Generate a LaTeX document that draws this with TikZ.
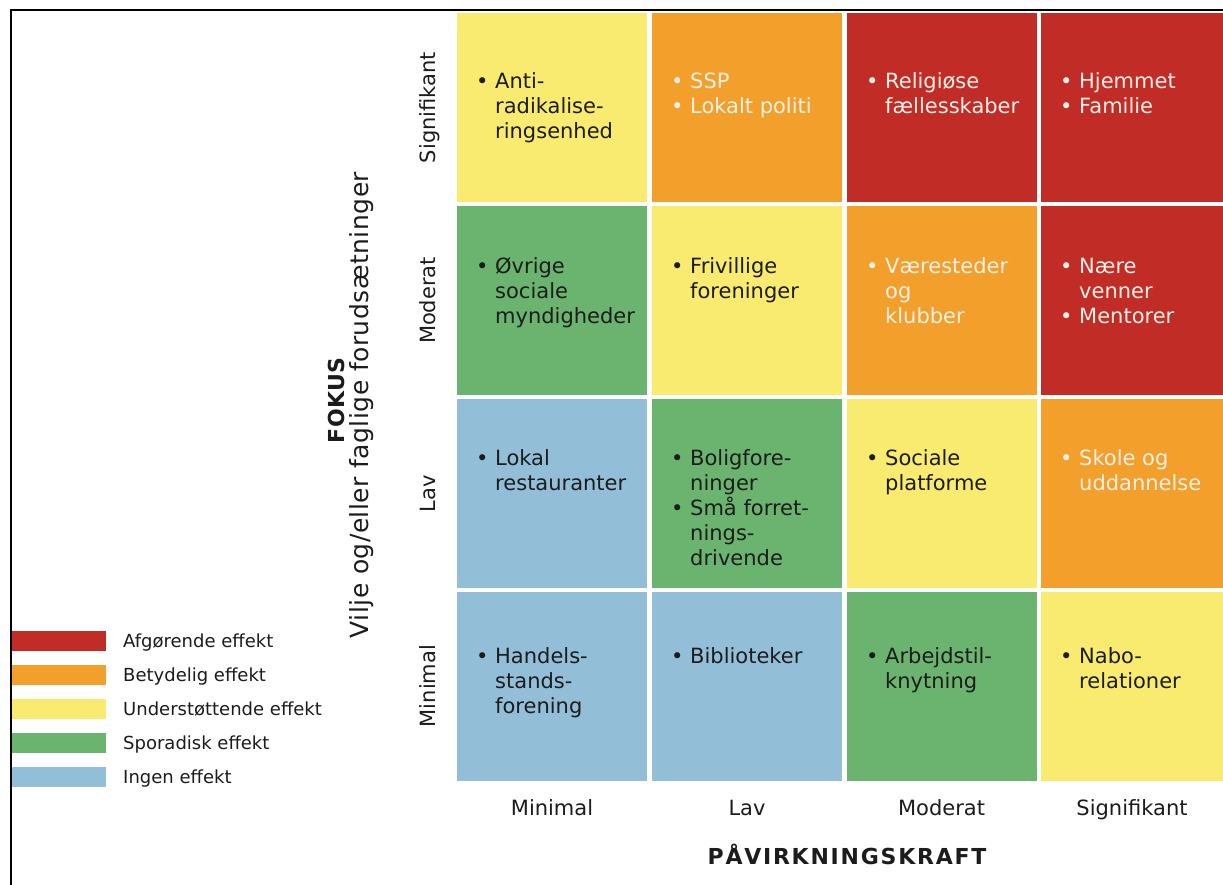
\documentclass[tikz,border=0pt]{standalone}
\usepackage{fontspec}
\setmainfont{DejaVu Sans}
\definecolor{feltroed}{HTML}{C12C27}
\definecolor{feltorange}{HTML}{F29F2B}
\definecolor{feltgul}{HTML}{F9EB6F}
\definecolor{feltgroen}{HTML}{6AB46F}
\definecolor{feltblaa}{HTML}{92BFD7}
\definecolor{morktekst}{HTML}{1C1C1C}
\definecolor{lystekst}{HTML}{F8F0E6}
\newcommand{\pkt}{\makebox[19pt][l]{\textbullet}}
\newcommand{\ind}{\hspace*{19pt}}

\begin{document}
\begin{tikzpicture}[x=1pt,y=-1pt,
  felt/.style={minimum width=190pt,minimum height=189pt,inner sep=0pt},
  tekst/.style={anchor=north west,inner sep=0pt,align=left,text=morktekst,font=\fontsize{21pt}{25pt}\selectfont},
  lys/.style={text=lystekst},
  etiket/.style={inner sep=0pt,anchor=base,text=morktekst,font=\fontsize{21pt}{25pt}\selectfont},
  akse/.style={inner sep=0pt,anchor=base,text=morktekst,font=\fontsize{22pt}{26pt}\selectfont\bfseries\addfontfeature{LetterSpace=8}},
  boks/.style={minimum width=94pt,minimum height=20pt,inner sep=0pt},
  forklaring/.style={inner sep=0pt,anchor=base west,text=morktekst,font=\fontsize{18pt}{22pt}\selectfont}]
\clip (0,0) rectangle (1223,885);
\fill[white] (0,0) rectangle (1223,885);
\draw[line width=2pt] (10.5,900) -- (10.5,10.5) -- (1240,10.5);

% felter
\node[felt,fill=feltgul] (C11) at (552,107.5) {};
\node[felt,fill=feltorange] (C12) at (747,107.5) {};
\node[felt,fill=feltroed] (C13) at (941.5,107.5) {};
\node[felt,fill=feltroed] (C14) at (1136,107.5) {};
\node[felt,fill=feltgroen] (C21) at (552,300.5) {};
\node[felt,fill=feltgul] (C22) at (747,300.5) {};
\node[felt,fill=feltorange] (C23) at (941.5,300.5) {};
\node[felt,fill=feltroed] (C24) at (1136,300.5) {};
\node[felt,fill=feltblaa] (C31) at (552,493.5) {};
\node[felt,fill=feltgroen] (C32) at (747,493.5) {};
\node[felt,fill=feltgul] (C33) at (941.5,493.5) {};
\node[felt,fill=feltorange] (C34) at (1136,493.5) {};
\node[felt,fill=feltblaa] (C41) at (552,686) {};
\node[felt,fill=feltblaa] (C42) at (747,686) {};
\node[felt,fill=feltgroen] (C43) at (941.5,686) {};
\node[felt,fill=feltgul] (C44) at (1136,686) {};

% tekst i felterne
\node[tekst] (T11) at (476,70.5) {\strut\pkt Anti-\\\ind radikalise-\\\ind ringsenhed};
\node[tekst,lys] (T12) at (671,70.5) {\strut\pkt SSP\\\pkt Lokalt politi};
\node[tekst,lys] (T13) at (866,70.5) {\strut\pkt Religiøse\\\ind fællesskaber};
\node[tekst,lys] (T14) at (1060,70.5) {\strut\pkt Hjemmet\\\pkt Familie};
\node[tekst] (T21) at (476,255.5) {\strut\pkt Øvrige\\\ind sociale\\\ind myndigheder};
\node[tekst] (T22) at (671,255.5) {\strut\pkt Frivillige\\\ind foreninger};
\node[tekst,lys] (T23) at (866,255.5) {\strut\pkt Væresteder\\\ind og\\\ind klubber};
\node[tekst,lys] (T24) at (1060,255.5) {\strut\pkt Nære\\\ind venner\\\pkt Mentorer};
\node[tekst] (T31) at (476,447.5) {\strut\pkt Lokal\\\ind restauranter};
\node[tekst] (T32) at (671,447.5) {\strut\pkt Boligfore-\\\ind ninger\\\pkt Små forret-\\\ind nings-\\\ind drivende};
\node[tekst] (T33) at (866,447.5) {\strut\pkt Sociale\\\ind platforme};
\node[tekst,lys] (T34) at (1060,447.5) {\strut\pkt Skole og\\\ind uddannelse};
\node[tekst] (T41) at (476,645.5) {\strut\pkt Handels-\\\ind stands-\\\ind forening};
\node[tekst] (T42) at (671,645.5) {\strut\pkt Biblioteker};
\node[tekst] (T43) at (866,645.5) {\strut\pkt Arbejdstil-\\\ind knytning};
\node[tekst] (T44) at (1060,645.5) {\strut\pkt Nabo-\\\ind relationer};

% akser
\node[etiket] (K1) at (552,815) {Minimal};
\node[etiket] (K2) at (747,815) {Lav};
\node[etiket] (K3) at (941.5,815) {Moderat};
\node[etiket] (K4) at (1132,815) {Signifikant};
\node[etiket,rotate=90] (R1) at (435,107.5) {Signifikant};
\node[etiket,rotate=90] (R2) at (435,300.5) {Moderat};
\node[etiket,rotate=90] (R3) at (435,493.5) {Lav};
\node[etiket,rotate=90] (R4) at (435,686) {Minimal};
\node[akse] (X) at (847,864) {PÅVIRKNINGSKRAFT};
\node[akse,rotate=90,font=\fontsize{22pt}{26pt}\selectfont\bfseries\addfontfeature{LetterSpace=2}] (Y) at (344,400.5) {FOKUS};
\node[etiket,rotate=90,font=\fontsize{25pt}{30pt}\selectfont\addfontfeature{LetterSpace=2}] (Y2) at (368,405) {Vilje og/eller faglige forudsætninger};

% forklaring
\node[boks,fill=feltroed] (B1) at (59,641) {};
\node[boks,fill=feltorange] (B2) at (59,675) {};
\node[boks,fill=feltgul] (B3) at (59,709) {};
\node[boks,fill=feltgroen] (B4) at (59,743) {};
\node[boks,fill=feltblaa] (B5) at (59,777) {};
\node[forklaring] (F1) at (123,647) {Afgørende effekt};
\node[forklaring] (F2) at (123,681) {Betydelig effekt};
\node[forklaring] (F3) at (123,715) {Understøttende effekt};
\node[forklaring] (F4) at (123,749) {Sporadisk effekt};
\node[forklaring] (F5) at (123,783) {Ingen effekt};
\end{tikzpicture}
\end{document}
